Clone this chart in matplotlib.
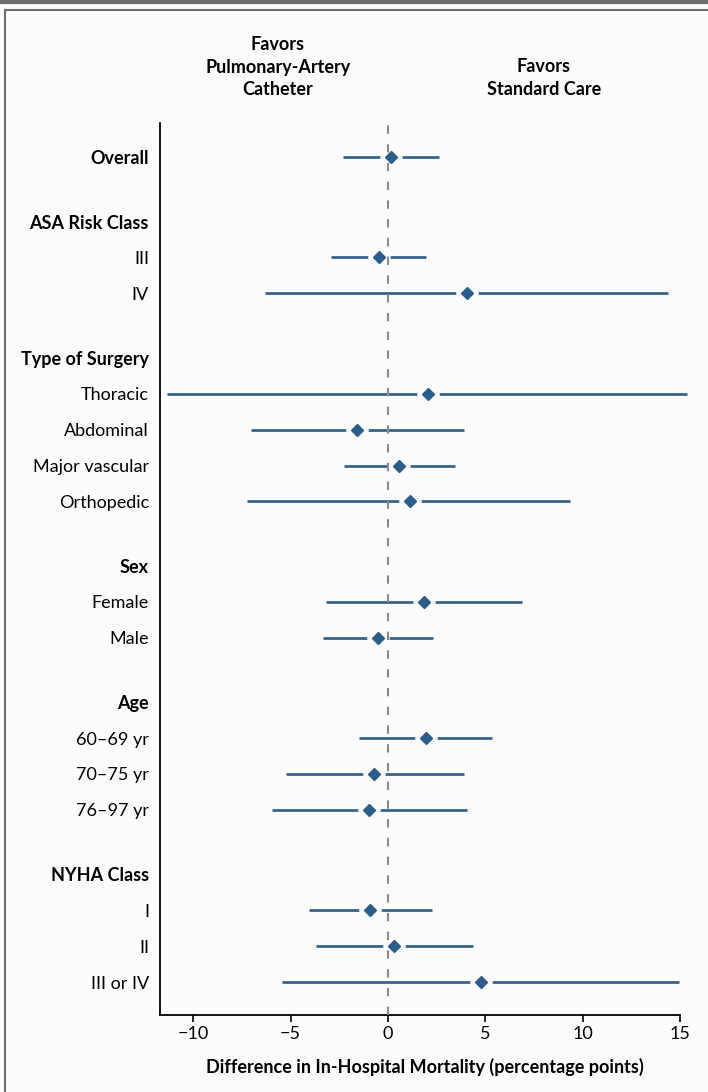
import numpy as np
import matplotlib.pyplot as plt
from matplotlib.lines import Line2D

plt.rcParams['font.family'] = ['Lato', 'DejaVu Sans']

# subgroup data: (label, point estimate, lower, upper); None marks a group header
groups = ["Overall", "ASA Risk Class", "Type of Surgery", "Sex", "Age", "NYHA Class"]
labels = [
    ["Overall"],
    ["III", "IV"],
    ["Thoracic", "Abdominal", "Major vascular", "Orthopedic"],
    ["Female", "Male"],
    ["60\u201369 yr", "70\u201375 yr", "76\u201397 yr"],
    ["I", "II", "III or IV"],
]
est = [
    [0.14],
    [-0.44, 4.03],
    [2.03, -1.57, 0.58, 1.11],
    [1.86, -0.53],
    [1.96, -0.71, -0.95],
    [-0.93, 0.30, 4.75],
]
lo = [
    [-2.30],
    [-2.95, -6.31],
    [-11.34, -7.01, -2.28, -7.24],
    [-3.18, -3.34],
    [-1.50, -5.25, -5.95],
    [-4.05, -3.70, -5.44],
]
hi = [
    [2.60],
    [1.96, 14.38],
    [15.37, 3.89, 3.45, 9.36],
    [6.86, 2.30],
    [5.35, 3.89, 4.06],
    [2.27, 4.35, 14.95],
]

blue = '#2c5d8a'
fs = 13
fig = plt.figure(figsize=(7.08, 10.92), dpi=100)
fig.patch.set_facecolor('#fcfcfc')
ax = fig.add_axes([0.226, 0.0705, 0.7486, 0.8169])
ax.set_facecolor('#fcfcfc')

# row positions
ypos, ylab, ybold = [], [], []
xs, xl, xh = [], [], []
y = 0.0
for gi, g in enumerate(groups):
    if gi > 0:
        y += 0.8
        ypos.append(y); ylab.append(g); ybold.append(True)
        y += 1.0
    for k, lab in enumerate(labels[gi]):
        ypos.append(y); ylab.append(lab); ybold.append(gi == 0)
        xs.append((y, est[gi][k])); xl.append(lo[gi][k]); xh.append(hi[gi][k])
        y += 1.0

ry = np.array([p[0] for p in xs])
rx = np.array([p[1] for p in xs])
ax.hlines(ry, xl, xh, color=blue, lw=1.9, zorder=2, clip_on=False)
ax.plot(rx, ry, 'D', ms=11.5, color='#fcfcfc', zorder=3, clip_on=False)
ax.axvline(0, color='#8a8a8a', lw=1.5, ls=(0, (4, 5)), zorder=4)
ax.plot(rx, ry, 'D', ms=6.3, color=blue, zorder=5, clip_on=False)

ax.set_xlim(-11.7, 15.5)
ax.set_ylim(23.92, -0.95)
ax.set_yticks(ypos)
ax.set_yticklabels(ylab, fontsize=fs)
for t, b in zip(ax.get_yticklabels(), ybold):
    if b:
        t.set_fontweight('bold')
ax.tick_params(axis='y', length=0, pad=8)
ax.set_xticks([-10, -5, 0, 5, 10, 15])
ax.set_xticklabels(['\u221210', '\u22125', '0', '5', '10', '15'], fontsize=fs)
ax.tick_params(axis='x', length=5, width=1.2, pad=3)
ax.spines['top'].set_visible(False)
ax.spines['right'].set_visible(False)
ax.spines['bottom'].set_bounds(-11.7, 15)
ax.spines['left'].set_linewidth(1.3)
ax.spines['bottom'].set_linewidth(1.3)
ax.set_xlabel('Difference in In-Hospital Mortality (percentage points)',
              fontsize=fs, fontweight='bold', labelpad=11)

fig.text(278 / 708, 1 - 67 / 1092, 'Favors\nPulmonary-Artery\nCatheter', ha='center',
         va='center', fontsize=fs, fontweight='bold', linespacing=1.4)
fig.text(544 / 708, 1 - 78 / 1092, 'Favors\nStandard Care', ha='center',
         va='center', fontsize=fs, fontweight='bold', linespacing=1.4)

# frame lines
fig.add_artist(Line2D([0, 1], [1 - 2 / 1092, 1 - 2 / 1092], color='#6e6e6e', lw=3))
fig.add_artist(Line2D([5 / 708, 1], [1 - 9.5 / 1092, 1 - 9.5 / 1092], color='#6e6e6e', lw=1.5))
fig.add_artist(Line2D([5 / 708, 5 / 708], [0, 1 - 9.5 / 1092], color='#6e6e6e', lw=1.5))

fig.savefig('out.png', dpi=100, facecolor=fig.get_facecolor())
